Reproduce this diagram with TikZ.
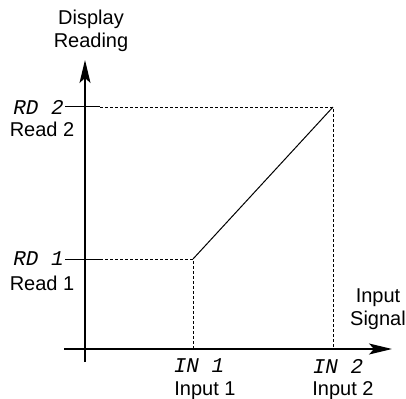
\documentclass[tikz,border=0pt]{standalone}
\usepackage{fontspec}
\setmainfont{Liberation Sans}
\newfontfamily\segfont{Liberation Mono}
\usetikzlibrary{arrows.meta,positioning}

\begin{document}
\begin{tikzpicture}[x=1pt,y=-1pt,
    axis/.style={line width=1.2pt, -{Stealth[length=23pt,width=11pt,inset=5pt]}},
    guide/.style={dash pattern=on 3pt off 2pt, line width=0.8pt},
    tickline/.style={line width=1pt},
    lbl/.style={font=\fontsize{20}{23}\selectfont, align=center, inner sep=0pt},
    seg/.style={font=\fontsize{21}{23}\selectfont\segfont\itshape, inner sep=1pt}
]
\useasboundingbox (0,0) rectangle (406,398);

% Axes
\coordinate (origin) at (85,349);
\coordinate (ybot) at (85,362);
\coordinate (ytop) at (85,60);
\coordinate (xleft) at (64,349);
\coordinate (xright) at (392,349);
\draw[axis] (ybot) -- (ytop);
\draw[axis] (xleft) -- (xright);

\node[lbl, anchor=base] (ylab) at (91,48) {Display\\Reading};
\node[lbl, anchor=base] (xlab) at (378,325) {Input\\Signal};

% Calibration points
\coordinate (p1) at (193,259);
\coordinate (p2) at (333,107);
\coordinate (t1) at (100,259);
\coordinate (t2) at (100,107);
\coordinate (q1) at (p1 |- origin);
\coordinate (q2) at (p2 |- origin);

% Reading labels
\node[seg, anchor=east] (rd2) at (65,107) {RD 2};
\node[lbl, anchor=base] (read2) at (42,137) {Read 2};
\node[seg, anchor=east] (rd1) at (65,259) {RD 1};
\node[lbl, anchor=base] (read1) at (42,290) {Read 1};

% Input labels
\node[seg] (in1) at (199,366) {IN 1};
\node[lbl, anchor=base] (input1) at (205,395) {Input 1};
\node[seg] (in2) at (338,366) {IN 2};
\node[lbl, anchor=base] (input2) at (343,395) {Input 2};

% Ticks and guides
\draw[tickline] (rd2.east) -- (t2);
\draw[tickline] (rd1.east) -- (t1);
\draw[guide] (t2) -- (p2) -- (q2);
\draw[guide] (t1) -- (p1) -- (q1);

% Scaling line
\draw[line width=1pt] (p1) -- (p2);

\end{tikzpicture}
\end{document}
